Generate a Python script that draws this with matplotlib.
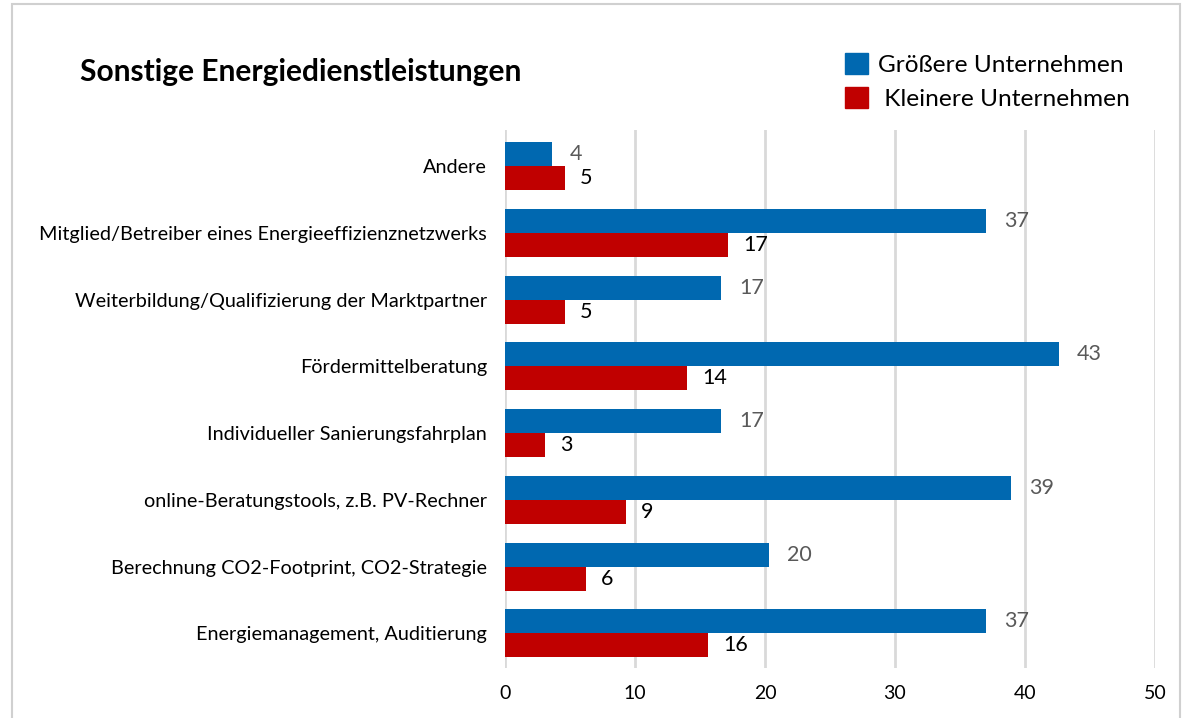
import numpy as np
import matplotlib.pyplot as plt
from matplotlib.patches import Rectangle, Patch

# categories from bottom to top
kategorien = [
    "Energiemanagement, Auditierung",
    "Berechnung CO2-Footprint, CO2-Strategie",
    "online-Beratungstools, z.B. PV-Rechner",
    "Individueller Sanierungsfahrplan",
    "Fördermittelberatung",
    "Weiterbildung/Qualifizierung der Marktpartner",
    "Mitglied/Betreiber eines Energieeffizienznetzwerks",
    "Andere",
]
groessere = [37.0, 20.3, 38.9, 16.6, 42.6, 16.6, 37.0, 3.6]
kleinere = [15.6, 6.2, 9.3, 3.1, 14.0, 4.6, 17.15, 4.6]
x_ticks = [0, 10, 20, 30, 40, 50]

blau = "#0068b0"
rot = "#c00000"

plt.rcParams['font.family'] = ['Lato', 'DejaVu Sans']

fig = plt.figure(figsize=(11.87, 7.18), dpi=100)
ax = fig.add_axes([505 / 1187, 1 - 668 / 718, 650 / 1187, 538 / 718])

y = np.arange(len(kategorien))
h = 0.36
b1 = ax.barh(y + h / 2, groessere, height=h, color=blau, zorder=3)
b2 = ax.barh(y - h / 2, kleinere, height=h, color=rot, zorder=3)
ax.bar_label(b1, fmt='%.0f', padding=13, fontsize=15.5, color='#595959')
ax.bar_label(b2, fmt='%.0f', padding=11, fontsize=15.5, color='black')

ax.set_yticks(y)
ax.set_yticklabels(kategorien, fontsize=14.3)
ax.set_xticks(x_ticks)
ax.set_xlim(0, 50)
ax.set_ylim(-0.52, 7.54)
ax.tick_params(axis='y', length=0, pad=13)
ax.tick_params(axis='x', length=0, pad=12, labelsize=14)
ax.grid(axis='x', color='#d9d9d9', linewidth=2, zorder=0)
for s in ax.spines.values():
    s.set_visible(False)

fig.text(80 / 1187, 1 - 72 / 718, "Sonstige Energiedienstleistungen",
         fontsize=21.5, fontweight='bold', va='center', ha='left')

handles = [Patch(color=blau, label="Größere Unternehmen"),
           Patch(color=rot, label=" Kleinere Unternehmen")]
fig.legend(handles=handles, loc='upper left',
           bbox_to_anchor=(823 / 1187, 1 - 31 / 718), frameon=False,
           fontsize=17.6, handlelength=0.95, handleheight=0.95,
           handletextpad=0.4, labelspacing=0.45)

# outer frame
fig.patches.append(Rectangle((12 / 1187, -0.1), 1168 / 1187, 1.1 - 4 / 718,
                             transform=fig.transFigure, fill=False,
                             edgecolor='#d0d0d0', linewidth=1.5))

fig.savefig("out.png", dpi=100)
